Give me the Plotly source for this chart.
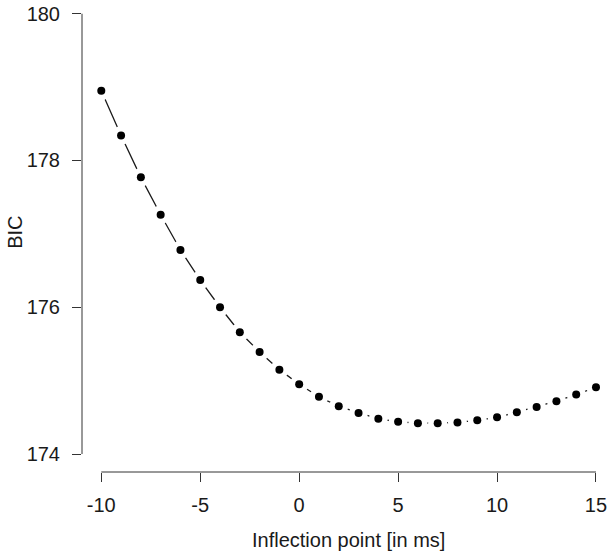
import plotly.graph_objects as go

# Data
inflection_ms = list(range(-10, 16))
bic = [178.95, 178.34, 177.77, 177.26, 176.78, 176.37, 176.00, 175.66, 175.39, 175.15,
       174.95, 174.78, 174.65, 174.56, 174.48, 174.44, 174.42, 174.42, 174.43, 174.46,
       174.50, 174.57, 174.64, 174.72, 174.81, 174.91]
x_ticks = [-10, -5, 0, 5, 10, 15]
x_tick_labels = [str(v) for v in x_ticks]
y_ticks = [174, 176, 178, 180]
y_tick_labels = [str(v) for v in y_ticks]

FONT = "Liberation Sans, Arial, sans-serif"
INK = "#1a1a1a"
AX = "#333333"

fig = go.Figure()
# connecting line
fig.add_trace(go.Scatter(x=inflection_ms, y=bic, mode="lines",
                         line=dict(color=INK, width=1.3), hoverinfo="skip"))
# white halos to create the gaps of type="b"
fig.add_trace(go.Scatter(x=inflection_ms, y=bic, mode="markers",
                         marker=dict(color="white", size=19, line=dict(width=0)),
                         hoverinfo="skip"))
# points
fig.add_trace(go.Scatter(x=inflection_ms, y=bic, mode="markers",
                         marker=dict(color="black", size=8, line=dict(width=0))))

fig.update_layout(
    width=614, height=559,
    margin=dict(l=82, r=0, t=0, b=86.7, pad=0),
    paper_bgcolor="white", plot_bgcolor="white",
    showlegend=False,
    font=dict(family=FONT, size=20, color=INK),
    xaxis=dict(range=[-10.975, 15.91], tickvals=x_ticks, ticktext=x_tick_labels,
               ticks="outside", ticklen=9,
               tickwidth=1, tickcolor=AX, showgrid=False, zeroline=False, showline=False,
               ticklabelstandoff=6, tickfont=dict(size=20, color=INK, family=FONT)),
    yaxis=dict(range=[173.755, 180.187], tickvals=y_ticks, ticktext=y_tick_labels,
               ticks="outside", ticklen=9,
               tickwidth=1, tickcolor=AX, showgrid=False, zeroline=False, showline=False,
               ticklabelstandoff=8, tickfont=dict(size=20, color=INK, family=FONT)),
    shapes=[
        dict(type="line", xref="x domain", yref="y", x0=0, x1=0,
             y0=min(y_ticks), y1=max(y_ticks), line=dict(color=AX, width=1)),
        dict(type="line", xref="x", yref="y domain", y0=0, y1=0,
             x0=min(x_ticks), x1=max(x_ticks), line=dict(color=AX, width=1)),
    ],
    annotations=[
        dict(text="Inflection point [in ms]", xref="paper", yref="paper", x=0.5, y=0,
             xanchor="center", yanchor="middle", yshift=-67.7, showarrow=False,
             font=dict(size=20, color=INK, family=FONT)),
        dict(text="BIC", xref="paper", yref="paper", x=0, y=0.5067, textangle=-90,
             xanchor="center", yanchor="middle", xshift=-67, showarrow=False,
             font=dict(size=20, color=INK, family=FONT)),
    ],
)

fig.write_html("out.html", config={"displayModeBar": False},
               post_script="document.body.style.margin='0';document.body.style.overflow='hidden';")
